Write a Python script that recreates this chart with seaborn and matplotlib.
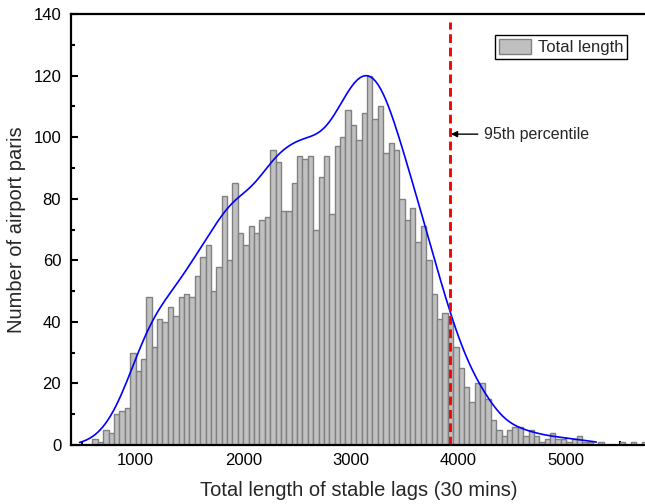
import numpy as np
import pandas as pd
import matplotlib.pyplot as plt
from matplotlib.patches import Patch
from matplotlib.ticker import MultipleLocator
import seaborn as sns

# histogram: 50-min wide bins starting at 600
bin_start = 600
bin_width = 50
counts = [2, 1, 5, 4, 10, 11, 12, 30, 24, 28,
          48, 32, 41, 40, 45, 42, 48, 49, 48, 55,
          61, 65, 50, 58, 81, 60, 85, 69, 65, 71,
          69, 73, 74, 96, 92, 76, 76, 85, 94, 93,
          94, 70, 87, 94, 75, 97, 100, 109, 104, 99,
          108, 120, 106, 110, 95, 98, 96, 80, 73, 77,
          66, 71, 60, 49, 41, 43, 40, 32, 25, 19,
          14, 20, 20, 15, 8, 5, 3, 5, 6, 6,
          3, 5, 3, 1, 2, 4, 2, 2, 1, 2,
          3, 1, 1, 0, 1, 0, 0, 0, 1, 0,
          1, 0, 1]
p95 = 3925
kde_peak = 120
kde_range = (480, 5280)

bin_left = bin_start + bin_width * np.arange(len(counts))
df = pd.DataFrame({'length': bin_left + bin_width / 2, 'count': counts})

sns.set_style('ticks')
plt.rcParams['font.family'] = ['Liberation Sans', 'DejaVu Sans']

fig = plt.figure(figsize=(6.45, 5.04), dpi=100)
ax = fig.add_axes([0.110, 0.117, 0.893, 0.855])

sns.histplot(data=df, x='length', weights='count', binwidth=bin_width,
             binrange=(bin_start, bin_left[-1] + bin_width), kde=True,
             color='#c0c0c0', edgecolor='#808080', linewidth=1, alpha=1,
             kde_kws={'bw_adjust': 0.42, 'cut': 3, 'clip': kde_range},
             line_kws={'lw': 1.2}, ax=ax)

# Origin scales the smooth curve to the tallest bar
kde_line = ax.lines[0]
y = kde_line.get_ydata()
kde_line.set_ydata(y * kde_peak / y.max())
kde_line.set_color('#0000ff')

ax.vlines(p95, 0, 137.5, colors='#ff0000', linestyles=(0, (3.0, 1.6)), lw=2.1)
ax.annotate('95th percentile', xy=(p95 + 5, 101), xytext=(p95 + 310, 101),
            fontsize=11.5, va='center',
            arrowprops=dict(arrowstyle='-|>', color='black', lw=1,
                            mutation_scale=9, shrinkA=2, shrinkB=0))

ax.set_xlim(400, 5750)
ax.set_ylim(0, 140)
ax.xaxis.set_major_locator(MultipleLocator(1000))
ax.xaxis.set_minor_locator(MultipleLocator(500))
ax.yaxis.set_major_locator(MultipleLocator(20))
ax.yaxis.set_minor_locator(MultipleLocator(10))
ax.tick_params(which='both', direction='in', width=1.5, labelsize=12,
               colors='black', top=False, right=False)
ax.tick_params(which='major', length=5)
ax.tick_params(which='minor', length=3)
ax.tick_params(axis='x', pad=6)
ax.tick_params(axis='y', pad=7)
for s in ax.spines.values():
    s.set_linewidth(1.6)
    s.set_color('black')

ax.set_xlabel('Total length of stable lags (30 mins)', fontsize=14.5, labelpad=9)
ax.set_ylabel('Number of airport paris', fontsize=14.5, labelpad=5)

handle = Patch(facecolor='#c0c0c0', edgecolor='#808080', lw=1)
leg = ax.legend([handle], ['Total length'], loc='upper right',
                bbox_to_anchor=(0.966, 0.952), borderaxespad=0, fontsize=12,
                fancybox=False, framealpha=1, edgecolor='black',
                handlelength=1.9, handleheight=1.0, borderpad=0.25,
                handletextpad=0.4)
leg.get_frame().set_linewidth(1)

fig.savefig('out.png', dpi=100)
